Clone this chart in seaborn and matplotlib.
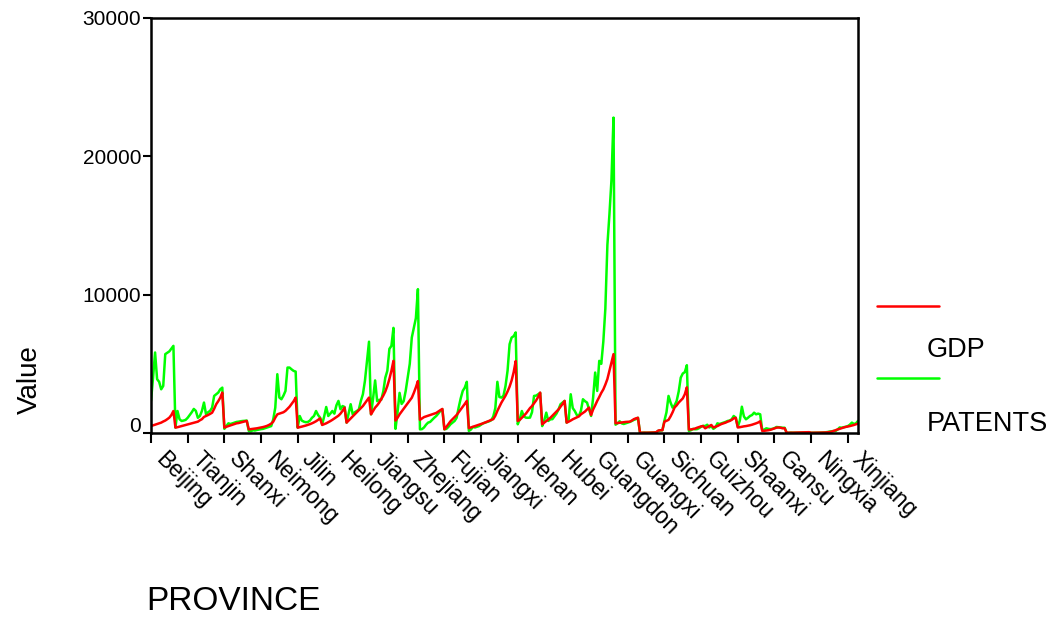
import numpy as np
import pandas as pd
import matplotlib
matplotlib.use("Agg")
import matplotlib.pyplot as plt
import matplotlib.transforms as mtransforms
from matplotlib.lines import Line2D
import seaborn as sns

# ---------------- data ----------------
provinces = ["Beijing", "Tianjin", "Hebei", "Shanxi", "Neimong", "Liaoning", "Jilin",
             "Heilong", "Shanghai", "Jiangsu", "Zhejiang", "Anhui", "Fujian", "Jiangxi",
             "Shandong", "Henan", "Hubei", "Hunan", "Guangdon", "Guangxi", "Hainan",
             "Sichuan", "Guizhou", "Yunnan", "Shaanxi", "Gansu", "Qinghai", "Ningxia",
             "Xinjiang"]
years = list(range(1991, 2003))

gdp = {
    "Beijing":  [507, 550, 600, 650, 700, 750, 830, 900, 1000, 1110, 1300, 1590],
    "Tianjin":  [390, 420, 460, 500, 540, 580, 620, 660, 700, 740, 780, 820],
    "Hebei":    [920, 1000, 1160, 1230, 1300, 1380, 1470, 1750, 2080, 2300, 2560, 2920],
    "Shanxi":   [390, 450, 500, 550, 600, 650, 700, 720, 760, 800, 840, 870],
    "Neimong":  [260, 280, 300, 320, 340, 370, 400, 430, 470, 520, 590, 680],
    "Liaoning": [820, 1110, 1350, 1400, 1450, 1500, 1600, 1750, 1900, 2100, 2300, 2560],
    "Jilin":    [386, 420, 460, 500, 540, 590, 640, 700, 770, 850, 950, 1060],
    "Heilong":  [580, 640, 700, 780, 860, 950, 1050, 1150, 1250, 1400, 1600, 1835],
    "Shanghai": [750, 900, 1050, 1200, 1350, 1500, 1650, 1800, 1950, 2150, 2350, 2560],
    "Jiangsu":  [1350, 1600, 1835, 2000, 2200, 2450, 2700, 3000, 3400, 3900, 4500, 5216],
    "Zhejiang": [900, 1100, 1350, 1550, 1750, 1950, 2150, 2350, 2550, 2900, 3300, 3750],
    "Anhui":    [950, 1050, 1150, 1200, 1250, 1300, 1350, 1400, 1450, 1550, 1650, 1740],
    "Fujian":   [265, 450, 650, 850, 1000, 1150, 1300, 1500, 1700, 1900, 2100, 2320],
    "Jiangxi":  [350, 400, 450, 500, 550, 600, 650, 700, 760, 820, 880, 950],
    "Shandong": [1000, 1250, 1600, 1900, 2200, 2450, 2700, 3000, 3350, 3800, 4400, 5200],
    "Henan":    [870, 950, 1100, 1250, 1400, 1600, 1800, 1950, 2150, 2350, 2600, 2920],
    "Hubei":    [630, 750, 880, 990, 1100, 1250, 1400, 1550, 1700, 1900, 2100, 2320],
    "Hunan":    [750, 820, 900, 990, 1060, 1130, 1200, 1350, 1450, 1550, 1700, 1835],
    "Guangdon": [1300, 1700, 2000, 2320, 2600, 2900, 3150, 3500, 3900, 4500, 5100, 5700],
    "Guangxi":  [700, 720, 740, 760, 780, 800, 810, 820, 900, 1000, 1060, 1100],
    "Hainan":   [20, 20, 20, 25, 25, 30, 30, 40, 60, 180, 200, 200],
    "Sichuan":  [820, 880, 950, 1200, 1500, 1850, 2000, 2200, 2350, 2500, 2800, 3300],
    "Guizhou":  [250, 260, 280, 320, 380, 430, 480, 500, 340, 420, 500, 580],
    "Yunnan":   [400, 450, 500, 580, 650, 700, 750, 820, 870, 950, 1060, 1100],
    "Shaanxi":  [400, 420, 450, 480, 500, 530, 560, 600, 650, 700, 760, 850],
    "Gansu":    [150, 160, 180, 200, 230, 280, 330, 386, 400, 380, 340, 340],
    "Qinghai":  [20, 20, 25, 25, 30, 30, 35, 40, 45, 50, 55, 60],
    "Ningxia":  [20, 20, 22, 25, 28, 30, 35, 40, 50, 70, 100, 145],
    "Xinjiang": [200, 260, 300, 350, 400, 440, 470, 500, 540, 580, 630, 680],
}

patents = {
    "Beijing":  [2320, 4000, 5820, 3890, 3700, 3160, 3400, 5700, 5800, 5900, 6100, 6300],
    "Tianjin":  [390, 1590, 1000, 870, 900, 950, 1100, 1300, 1500, 1740, 1600, 1100],
    "Hebei":    [1230, 1600, 2200, 1350, 1500, 1600, 1835, 2680, 2800, 2920, 3160, 3280],
    "Shanxi":   [300, 500, 700, 650, 700, 750, 800, 820, 850, 870, 880, 900],
    "Neimong":  [150, 120, 200, 180, 220, 250, 280, 300, 350, 400, 450, 500],
    "Liaoning": [990, 1835, 4250, 2560, 2440, 2700, 3040, 4730, 4730, 4600, 4490, 4440],
    "Jilin":    [390, 1230, 900, 820, 780, 800, 900, 1100, 1230, 1590, 1300, 1110],
    "Heilong":  [630, 1200, 1880, 1230, 1400, 1590, 1400, 2000, 2320, 1715, 1950, 1880],
    "Shanghai": [750, 1400, 2080, 1350, 1500, 1590, 1700, 2320, 2800, 3770, 5200, 6600],
    "Jiangsu":  [1350, 2500, 3800, 2300, 2400, 2400, 3000, 4000, 4500, 6080, 6300, 7600],
    "Zhejiang": [300, 1500, 2900, 2100, 2300, 3040, 4000, 5000, 6900, 7600, 8300, 10400],
    "Anhui":    [265, 280, 400, 600, 750, 800, 950, 1100, 1230, 1400, 1600, 1715],
    "Fujian":   [265, 300, 450, 630, 750, 870, 1100, 1835, 2500, 3040, 3280, 3700],
    "Jiangxi":  [150, 250, 435, 400, 450, 500, 600, 700, 750, 800, 850, 920],
    "Shandong": [1200, 1800, 3700, 2600, 2560, 2700, 3400, 4500, 6420, 6900, 7000, 7270],
    "Henan":    [630, 1000, 1590, 1200, 1110, 1100, 1110, 1500, 2680, 2700, 2800, 2900],
    "Hubei":    [500, 900, 1470, 870, 990, 1000, 1200, 1400, 1700, 2080, 2200, 2320],
    "Hunan":    [750, 990, 2800, 1800, 1590, 1300, 1230, 1600, 2440, 2300, 2200, 1715],
    "Guangdon": [1230, 2560, 4370, 3040, 5216, 5000, 6600, 9000, 13600, 15800, 18300, 22800],
    "Guangxi":  [600, 700, 850, 700, 650, 700, 750, 800, 870, 950, 1000, 1100],
    "Hainan":   [10, 15, 30, 20, 20, 25, 30, 40, 60, 150, 180, 200],
    "Sichuan":  [900, 1500, 2680, 2200, 1835, 2000, 2320, 3000, 4000, 4300, 4400, 4900],
    "Guizhou":  [150, 200, 300, 270, 280, 350, 450, 520, 500, 600, 400, 500],
    "Yunnan":   [300, 400, 700, 650, 700, 750, 800, 870, 900, 990, 1230, 1100],
    "Shaanxi":  [450, 900, 1900, 1200, 990, 1100, 1230, 1300, 1470, 1350, 1400, 1350],
    "Gansu":    [200, 250, 340, 300, 280, 300, 350, 435, 420, 400, 380, 380],
    "Qinghai":  [10, 15, 30, 20, 20, 20, 25, 25, 30, 30, 35, 40],
    "Ningxia":  [15, 20, 25, 22, 25, 30, 40, 50, 70, 100, 120, 150],
    "Xinjiang": [150, 250, 400, 380, 420, 450, 500, 600, 750, 650, 700, 870],
}

series_names = ["PATENTS", "GDP"]          # draw order: PATENTS below, GDP on top
legend_order = ["GDP", "PATENTS"]
colors = {"GDP": "#ff0000", "PATENTS": "#00ff00"}
y_ticks = [0, 10000, 20000, 30000]
label_step = 18                             # labels every 18 observations

# ---------------- long table ----------------
rows = []
obs = 0
for p in provinces:
    for i, yr in enumerate(years):
        rows.append({"obs": obs, "PROVINCE": p, "year": yr, "series": "GDP", "Value": gdp[p][i]})
        rows.append({"obs": obs, "PROVINCE": p, "year": yr, "series": "PATENTS", "Value": patents[p][i]})
        obs += 1
df = pd.DataFrame(rows)
n_obs = obs

# ---------------- figure ----------------
sns.set_style("white")
plt.rcParams["font.family"] = ["Liberation Sans", "DejaVu Sans"]
plt.rcParams["text.color"] = "black"
plt.rcParams["axes.labelcolor"] = "black"
plt.rcParams["xtick.color"] = "black"
plt.rcParams["ytick.color"] = "black"

fig = plt.figure(figsize=(10.51, 6.18), dpi=100)
ax = fig.add_axes([151 / 1051, 1 - 433 / 618, (858 - 151) / 1051, (433 - 18) / 618])

sns.lineplot(data=df, x="obs", y="Value", hue="series", hue_order=series_names,
             palette=colors, linewidth=1.8, estimator=None, legend=False, ax=ax)

ax.set_xlim(0, n_obs - 1)
ax.set_ylim(y_ticks[0], y_ticks[-1])

tick_pos = list(range(0, n_obs, label_step))
tick_lab = [df.loc[df["obs"] == t, "PROVINCE"].iloc[0] for t in tick_pos]
ax.set_xticks(tick_pos)
ax.set_xticklabels(tick_lab, rotation=-45, ha="left", va="center",
                   rotation_mode="anchor", fontsize=16.5)
ax.set_yticks(y_ticks)
ax.set_yticklabels([str(v) for v in y_ticks], fontsize=15)

ax.tick_params(axis="x", bottom=True, top=False, direction="out", length=7,
               width=1.5, pad=5, colors="black")
ax.tick_params(axis="y", left=True, right=False, direction="out", length=6,
               width=1.5, pad=1, colors="black")
for s in ax.spines.values():
    s.set_visible(True)
    s.set_color("black")
    s.set_linewidth(1.8)
ax.grid(False)

# nudge x labels right/down as in the reference
shift = mtransforms.ScaledTranslation(8 / 100, -6 / 100, fig.dpi_scale_trans)
for lab in ax.get_xticklabels():
    lab.set_transform(lab.get_transform() + shift)

# lift the "0" label slightly as in the reference
zero_lab = ax.get_yticklabels()[0]
zero_lab.set_transform(zero_lab.get_transform() +
                       mtransforms.ScaledTranslation(0, 9 / 100, fig.dpi_scale_trans))

ax.set_xlabel("PROVINCE", fontsize=24)
ax.xaxis.set_label_coords((233 - 151) / 707, (433 - 586) / 415)
ax.set_ylabel("Value", fontsize=20)
ax.yaxis.set_label_coords((43 - 151) / 707, (433 - 380) / 415)

# legend drawn EViews style: line, then label underneath
leg_line_y = {"GDP": 306, "PATENTS": 378}
leg_text_y = {"GDP": 350, "PATENTS": 424}
for name in legend_order:
    yl = 1 - leg_line_y[name] / 618
    fig.add_artist(Line2D([877 / 1051, 939 / 1051], [yl, yl], color=colors[name],
                          linewidth=1.8, transform=fig.transFigure))
    fig.text(927 / 1051, 1 - leg_text_y[name] / 618, name, fontsize=19.5,
             ha="left", va="center", color="black")

fig.savefig("out.png", dpi=100, facecolor="white")
